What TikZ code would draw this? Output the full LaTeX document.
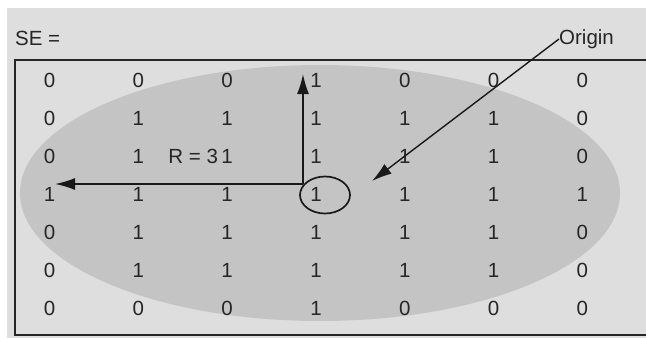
\documentclass[tikz,border=0pt]{standalone}
\usepackage{fontspec}
\setmainfont{Liberation Sans}
\usetikzlibrary{matrix,arrows.meta,shapes.geometric}

\begin{document}
\begin{tikzpicture}[
        x=1pt, y=-1pt,
        panel/.style={fill=black!13, draw=none},
        blob/.style={fill=black!23, draw=none},
        txt/.style={font=\fontsize{20.5}{24}\selectfont, text=black!85, inner sep=0pt},
        cell/.style={txt, minimum width=88.8pt, minimum height=38pt},
        pointer/.style={draw=black!90, -{Latex[length=20pt,width=12pt]}, line width=1.7pt},
    ]
    \useasboundingbox (0,0) rectangle (646,338);
    \fill[panel] (7,8) rectangle (646,338);
    \fill[blob] (320,193) ellipse [x radius=300pt, y radius=128pt];
    \draw[line width=2.2pt, black!85] (646,60) -- (15,60) -- (15,335) -- (646,335);

    \node[txt, anchor=west](selabel) at (15,38) {SE =};
    \node[txt, anchor=west](origin) at (559,39) {Origin};

    \matrix (se) [matrix of nodes, nodes={cell}, column sep=0pt, row sep=0pt] at (316,194) {
        0 & 0 & 0 & 1 & 0 & 0 & 0 \\
        0 & 1 & 1 & 1 & 1 & 1 & 0 \\
        0 & 1 & 1 & 1 & 1 & 1 & 0 \\
        1 & 1 & 1 & 1 & 1 & 1 & 1 \\
        0 & 1 & 1 & 1 & 1 & 1 & 0 \\
        0 & 1 & 1 & 1 & 1 & 1 & 0 \\
        0 & 0 & 0 & 1 & 0 & 0 & 0 \\
    };

    \node[txt, anchor=east](radius) at ([xshift=-9pt]se-3-3.center) {R = 3};
    \node[draw=black!90, ellipse, line width=1.7pt, minimum width=50pt, minimum height=37pt](centre) at (325,195) {};

    \coordinate (corner) at (303,184);
    \coordinate (up) at (303,74);
    \coordinate (left) at (55,184);
    \coordinate (aim) at (372,181);

    \draw[pointer] (corner) -- (up);
    \draw[pointer] (corner) -- (left);
    \draw[pointer, line width=1.4pt] (origin.west) -- (aim);

\end{tikzpicture}
\end{document}
